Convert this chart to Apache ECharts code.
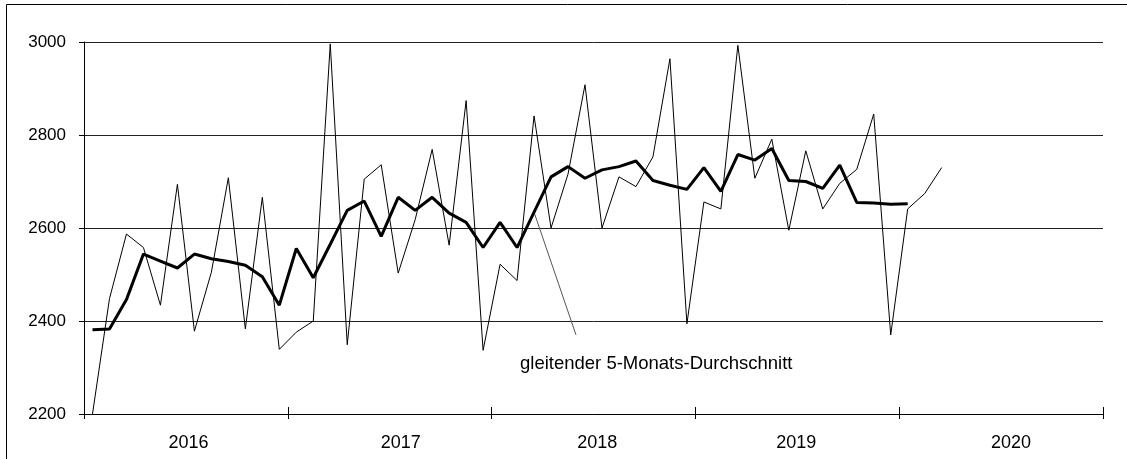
<!DOCTYPE html>
<html>
<head>
<meta charset="utf-8">
<script src="https://cdn.jsdelivr.net/npm/echarts@6/dist/echarts.min.js"></script>
<style>html,body{margin:0;padding:0;background:#fff;}#c{width:1127px;height:459px;}</style>
</head>
<body>
<div id="c"></div>
<script>
const years = ['2016', '2017', '2018', '2019', '2020'];
const yTicks = [2200, 2400, 2600, 2800, 3000];
const monthly = [2200, 2448, 2587, 2558, 2434, 2694, 2378, 2505, 2708, 2383, 2666, 2339,
  2376, 2400, 2996, 2349, 2705, 2736, 2503, 2618, 2769, 2563, 2874, 2337,
  2522, 2487, 2841, 2600, 2716, 2908, 2600, 2710, 2689, 2753, 2964, 2394,
  2656, 2641, 2993, 2707, 2791, 2595, 2766, 2641, 2696, 2726, 2845, 2370,
  2641, 2674, 2730];
const movingAvg = [2381, 2383, 2446, 2544, 2529, 2514, 2544, 2534, 2528, 2520, 2495, 2434,
  2556, 2493, 2565, 2638, 2658, 2582, 2666, 2638, 2666, 2632, 2612, 2558,
  2612, 2558, 2634, 2710, 2732, 2707, 2725, 2732, 2744, 2702, 2692, 2683,
  2730, 2679, 2758, 2746, 2771, 2702, 2700, 2685, 2735, 2655, 2654, 2651,
  2652];
const pointerLine = [[26.5, 2634], [28.97, 2370]];
const annotation = 'gleitender 5-Monats-Durchschnitt';

const months = [];
years.forEach(y => { for (let m = 1; m <= 12; m++) months.push(y + '-' + String(m).padStart(2, '0')); });

const FONT = "'Liberation Sans', Arial, sans-serif";
const yearShift = [2.5, 11, 3.7, -1, 10];
const rich = {};
yearShift.forEach((d, k) => {
  rich['s' + k] = {
    fontSize: 18, fontFamily: FONT, color: '#000',
    padding: d >= 0 ? [0, 0, 0, 2 * d] : [0, -2 * d, 0, 0]
  };
});

const chart = echarts.init(document.getElementById('c'), null, {renderer: 'canvas'});
chart.setOption({
  animation: false,
  backgroundColor: '#fff',
  title: {
    text: annotation, left: 520, top: 354, padding: 0,
    textStyle: {fontSize: 18.5, fontWeight: 'normal', color: '#000', fontFamily: FONT}
  },
  graphic: [{
    type: 'rect', silent: true,
    shape: {x: 6.5, y: 4.5, width: 1300, height: 600},
    style: {fill: 'none', stroke: '#000', lineWidth: 1}
  }],
  grid: {left: 84, right: 24, top: 42, bottom: 45},
  xAxis: [
    {type: 'category', data: months, boundaryGap: true, position: 'bottom',
      axisLine: {show: true, lineStyle: {color: '#000', width: 1}},
      axisTick: {show: false}, axisLabel: {show: false}, splitLine: {show: false}},
    {type: 'value', min: 0, max: 60, interval: 6, position: 'bottom',
      axisLine: {show: false}, axisTick: {show: false}, splitLine: {show: false},
      axisLabel: {
        show: true, margin: 20, showMinLabel: true, showMaxLabel: true,
        formatter: v => {
          const k = (v - 6) / 12;
          if (Number.isInteger(k) && k >= 0 && k < years.length) return '{s' + k + '|' + years[k] + '}';
          return '';
        },
        rich: rich
      }},
    {type: 'value', min: 0, max: 60, interval: 12, position: 'bottom',
      axisLine: {show: false}, splitLine: {show: false}, axisLabel: {show: false},
      axisTick: {show: true, inside: true, length: 7, lineStyle: {color: '#000', width: 1}}},
    {type: 'value', min: 0, max: 60, interval: 12, position: 'bottom',
      axisLine: {show: false}, splitLine: {show: false}, axisLabel: {show: false},
      axisTick: {show: true, inside: false, length: 5, lineStyle: {color: '#000', width: 1}}}
  ],
  yAxis: {
    type: 'value', min: yTicks[0], max: yTicks[yTicks.length - 1], interval: 200,
    axisLine: {show: true, lineStyle: {color: '#000', width: 1}},
    axisTick: {show: true, length: 5, lineStyle: {color: '#000', width: 1}},
    axisLabel: {margin: 18, fontSize: 17, color: '#000', fontFamily: FONT, formatter: v => String(v)},
    splitLine: {show: true, lineStyle: {color: '#222', width: 1}}
  },
  series: [
    {type: 'line', name: 'pointer', xAxisIndex: 1, data: pointerLine, showSymbol: false, silent: true,
      lineStyle: {color: '#555', width: 1}, z: 1},
    {type: 'line', name: 'monthly', xAxisIndex: 0, data: monthly, showSymbol: false,
      lineStyle: {color: '#000', width: 1}, z: 2},
    {type: 'line', name: 'movingAvg', xAxisIndex: 0, data: movingAvg, showSymbol: false,
      lineStyle: {color: '#000', width: 3}, z: 3}
  ]
});
</script>
</body>
</html>
